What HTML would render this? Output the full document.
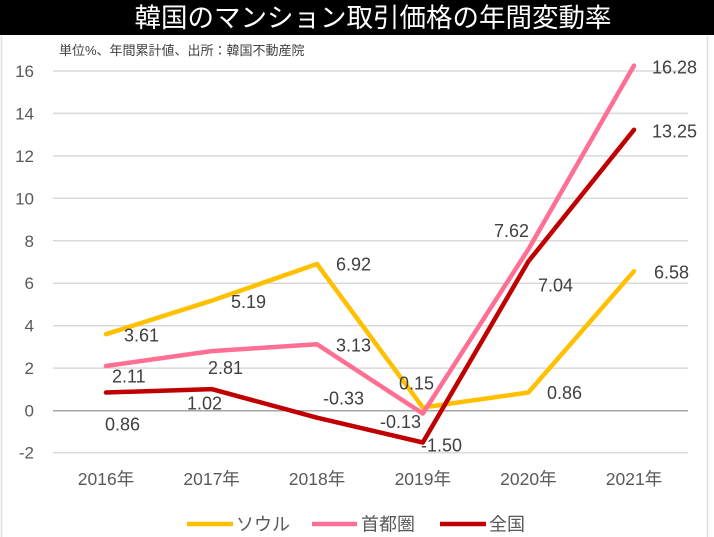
<!DOCTYPE html>
<html><head><meta charset="utf-8"><style>
html,body{margin:0;padding:0;background:#fff;}
body{width:714px;height:537px;overflow:hidden;position:relative;font-family:"Liberation Sans","Noto Sans CJK JP",sans-serif;}
svg{position:absolute;left:0;top:0;}
</style></head><body>
<svg width="714" height="537" viewBox="0 0 714 537" xmlns="http://www.w3.org/2000/svg" font-family="Liberation Sans, Noto Sans CJK JP, sans-serif">
<rect x="0" y="0" width="714" height="35" fill="#000"/>
<text x="373" y="27" text-anchor="middle" fill="#fff" font-size="26.5" font-family="Noto Sans CJK JP, sans-serif">韓国のマンション取引価格の年間変動率</text>
<line x1="1.5" y1="36" x2="1.5" y2="537" stroke="#e0e0e0" stroke-width="1.5"/>
<line x1="707.5" y1="36" x2="707.5" y2="537" stroke="#e0e0e0" stroke-width="1.5"/>
<text x="59" y="55" fill="#404040" font-size="13" font-family="Liberation Sans, Noto Sans CJK JP, sans-serif">単位%、年間累計値、出所：韓国不動産院</text>
<!-- gridlines -->
<g stroke="#d9d9d9" stroke-width="1.5">
<line x1="53" y1="71" x2="688" y2="71"/>
<line x1="53" y1="113.4" x2="688" y2="113.4"/>
<line x1="53" y1="155.9" x2="688" y2="155.9"/>
<line x1="53" y1="198.3" x2="688" y2="198.3"/>
<line x1="53" y1="240.8" x2="688" y2="240.8"/>
<line x1="53" y1="283.2" x2="688" y2="283.2"/>
<line x1="53" y1="325.7" x2="688" y2="325.7"/>
<line x1="53" y1="368.1" x2="688" y2="368.1"/>
<line x1="53" y1="452.6" x2="688" y2="452.6"/>
</g>
<line x1="53" y1="410.7" x2="688" y2="410.7" stroke="#a6a6a6" stroke-width="1.5"/>
<!-- y labels -->
<g fill="#595959" font-size="17" text-anchor="end">
<text x="34" y="77">16</text>
<text x="34" y="119.4">14</text>
<text x="34" y="161.9">12</text>
<text x="34" y="204.3">10</text>
<text x="34" y="246.8">8</text>
<text x="34" y="289.2">6</text>
<text x="34" y="331.7">4</text>
<text x="34" y="374.1">2</text>
<text x="34" y="416.7">0</text>
<text x="34" y="458.6">-2</text>
</g>
<!-- x labels -->
<g fill="#595959" font-size="17.5" text-anchor="middle">
<text x="106" y="485">2016年</text>
<text x="211.6" y="485">2017年</text>
<text x="317" y="485">2018年</text>
<text x="422.8" y="485">2019年</text>
<text x="528.4" y="485">2020年</text>
<text x="634" y="485">2021年</text>
</g>
<!-- series -->
<g fill="none" stroke-width="4.5" stroke-linejoin="round" stroke-linecap="round">
<polyline stroke="#FFC000" points="106,334.2 211.6,300.7 317,264 422.8,407.5 528.4,392.5 634,271.2"/>
<polyline stroke="#FF6F93" points="106,366 211.6,351.1 317,344.3 422.8,413.5 528.4,249.2 634,65.6"/>
<polyline stroke="#C00000" points="106,392.5 211.6,389.1 317,417.7 422.8,442.5 528.4,261.4 634,129.8"/>
</g>
<!-- data labels -->
<g fill="#404040" font-size="18">
<text x="652" y="73.5">16.28</text>
<text x="652" y="137.5">13.25</text>
<text x="654" y="278.5">6.58</text>
<text x="494" y="237">7.62</text>
<text x="538" y="291.5">7.04</text>
<text x="547" y="399">0.86</text>
<text x="399" y="389.5">0.15</text>
<text x="380" y="428">-0.13</text>
<text x="421" y="451.5">-1.50</text>
<text x="336" y="270.5">6.92</text>
<text x="336" y="351.5">3.13</text>
<text x="323" y="404.5">-0.33</text>
<text x="124" y="341.5">3.61</text>
<text x="231" y="308">5.19</text>
<text x="112" y="382.5">2.11</text>
<text x="208" y="374">2.81</text>
<text x="187" y="409.5">1.02</text>
<text x="105" y="430.5">0.86</text>
</g>
<!-- legend -->
<g stroke-width="4.5">
<line x1="187" y1="524" x2="233" y2="524" stroke="#FFC000"/>
<line x1="312" y1="524" x2="357" y2="524" stroke="#FF6F93"/>
<line x1="440" y1="524" x2="486" y2="524" stroke="#C00000"/>
</g>
<g fill="#595959" font-size="18" font-family="Noto Sans CJK JP, sans-serif">
<text x="236" y="530.5">ソウル</text>
<text x="361" y="530.5">首都圏</text>
<text x="489" y="530.5">全国</text>
</g>
</svg>
</body></html>
